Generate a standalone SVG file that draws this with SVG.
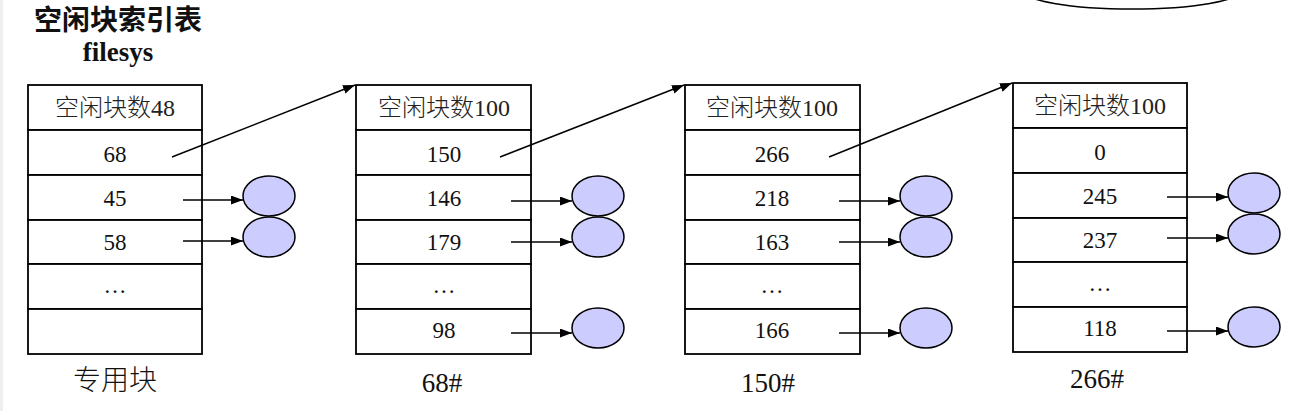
<svg xmlns="http://www.w3.org/2000/svg" width="1293" height="411" viewBox="0 0 1293 411">
<style>
.cell{fill:#fff;stroke:#000;stroke-width:1.8}
.t{font-family:"Liberation Serif","Noto Sans CJK SC",serif;font-size:23px;text-anchor:middle;fill:#111}
.h{font-family:"Liberation Serif","Noto Sans CJK SC",serif;font-size:24px;font-weight:300;text-anchor:middle;fill:#222}
.lab{font-family:"Liberation Serif","Noto Sans CJK SC",serif;font-size:27px;text-anchor:middle;fill:#111}
.lab2{font-family:"Noto Sans CJK SC",sans-serif;font-size:28px;font-weight:300;text-anchor:middle;fill:#111}
.c{fill:#ccccff;stroke:#000;stroke-width:1.5}
.a{stroke:#000;stroke-width:1.5;fill:none;marker-end:url(#ah)}
</style>
<defs>
<marker id="ah" viewBox="0 0 12 9" refX="12" refY="4.5" markerWidth="8" markerHeight="6" orient="auto" markerUnits="strokeWidth"><path d="M0,0 L12,4.5 L0,9 z" fill="#000"/></marker>
</defs>
<rect x="0" y="0" width="1293" height="411" fill="#fff"/>
<rect x="0" y="0" width="3" height="411" fill="#eeeeee"/>
<ellipse cx="1132" cy="-10" rx="110" ry="19" fill="none" stroke="#000" stroke-width="1.5"/>
<g id="title">
<text x="118" y="30" style="font-family:'Noto Sans CJK SC',sans-serif;font-size:28px;font-weight:bold;text-anchor:middle;fill:#111">空闲块索引表</text>
<text x="118" y="61" style="font-family:'Liberation Serif',serif;font-size:27px;font-weight:bold;text-anchor:middle;fill:#111">filesys</text>
</g>
<g id="block1">
<rect class="cell" x="28" y="85" width="174" height="45"/>
<rect class="cell" x="28" y="130" width="174" height="45"/>
<rect class="cell" x="28" y="175" width="174" height="45"/>
<rect class="cell" x="28" y="220" width="174" height="44"/>
<rect class="cell" x="28" y="264" width="174" height="45"/>
<rect class="cell" x="28" y="309" width="174" height="45"/>
<text class="h" x="115" y="116">空闲块数48</text>
<text class="t" x="115" y="162">68</text>
<text class="t" x="115" y="206">45</text>
<text class="t" x="115" y="250">58</text>
<text class="t" x="115" y="293">…</text>
<text class="lab2" x="115" y="390">专用块</text>
</g>
<g id="block2">
<rect class="cell" x="356" y="85" width="175" height="45"/>
<rect class="cell" x="356" y="130" width="175" height="45"/>
<rect class="cell" x="356" y="175" width="175" height="45"/>
<rect class="cell" x="356" y="220" width="175" height="44"/>
<rect class="cell" x="356" y="264" width="175" height="45"/>
<rect class="cell" x="356" y="309" width="175" height="45"/>
<text class="h" x="444" y="116">空闲块数100</text>
<text class="t" x="444" y="162">150</text>
<text class="t" x="444" y="206">146</text>
<text class="t" x="444" y="250">179</text>
<text class="t" x="444" y="293">…</text>
<text class="t" x="444" y="338">98</text>
<text class="lab" x="442" y="392">68#</text>
</g>
<g id="block3">
<rect class="cell" x="685" y="85" width="175" height="45"/>
<rect class="cell" x="685" y="130" width="175" height="45"/>
<rect class="cell" x="685" y="175" width="175" height="45"/>
<rect class="cell" x="685" y="220" width="175" height="44"/>
<rect class="cell" x="685" y="264" width="175" height="45"/>
<rect class="cell" x="685" y="309" width="175" height="45"/>
<text class="h" x="772" y="116">空闲块数100</text>
<text class="t" x="772" y="162">266</text>
<text class="t" x="772" y="206">218</text>
<text class="t" x="772" y="250">163</text>
<text class="t" x="772" y="293">…</text>
<text class="t" x="772" y="338">166</text>
<text class="lab" x="768" y="392">150#</text>
</g>
<g id="block4">
<rect class="cell" x="1013" y="83" width="174" height="45"/>
<rect class="cell" x="1013" y="128" width="174" height="45"/>
<rect class="cell" x="1013" y="173" width="174" height="45"/>
<rect class="cell" x="1013" y="218" width="174" height="44"/>
<rect class="cell" x="1013" y="262" width="174" height="45"/>
<rect class="cell" x="1013" y="307" width="174" height="45"/>
<text class="h" x="1100" y="114">空闲块数100</text>
<text class="t" x="1100" y="160">0</text>
<text class="t" x="1100" y="204">245</text>
<text class="t" x="1100" y="248">237</text>
<text class="t" x="1100" y="291">…</text>
<text class="t" x="1100" y="336">118</text>
<text class="lab" x="1097" y="388">266#</text>
</g>
<g id="free-blocks">
<ellipse class="c" cx="269" cy="196" rx="26" ry="20"/>
<ellipse class="c" cx="269" cy="237" rx="26" ry="20"/>
<ellipse class="c" cx="598" cy="196" rx="26" ry="20"/>
<ellipse class="c" cx="598" cy="237" rx="26" ry="20"/>
<ellipse class="c" cx="598" cy="328" rx="26" ry="20"/>
<ellipse class="c" cx="926" cy="196" rx="26" ry="20"/>
<ellipse class="c" cx="926" cy="237" rx="26" ry="20"/>
<ellipse class="c" cx="926" cy="328" rx="26" ry="20"/>
<ellipse class="c" cx="1254" cy="193" rx="26" ry="20"/>
<ellipse class="c" cx="1254" cy="234" rx="26" ry="20"/>
<ellipse class="c" cx="1254" cy="327" rx="26" ry="20"/>
</g>
<g id="connectors">
<line class="a" x1="172" y1="157" x2="355" y2="85"/>
<line class="a" x1="500" y1="157" x2="684" y2="85"/>
<line class="a" x1="829" y1="157" x2="1012" y2="83"/>
<line class="a" x1="183" y1="200" x2="243" y2="200"/>
<line class="a" x1="183" y1="241" x2="243" y2="241"/>
<line class="a" x1="511" y1="201" x2="572" y2="201"/>
<line class="a" x1="511" y1="242" x2="572" y2="242"/>
<line class="a" x1="511" y1="333" x2="572" y2="333"/>
<line class="a" x1="839" y1="201" x2="900" y2="201"/>
<line class="a" x1="839" y1="242" x2="900" y2="242"/>
<line class="a" x1="839" y1="333" x2="900" y2="333"/>
<line class="a" x1="1167" y1="197" x2="1228" y2="197"/>
<line class="a" x1="1167" y1="238" x2="1228" y2="238"/>
<line class="a" x1="1167" y1="331" x2="1228" y2="331"/>
</g>
</svg>
